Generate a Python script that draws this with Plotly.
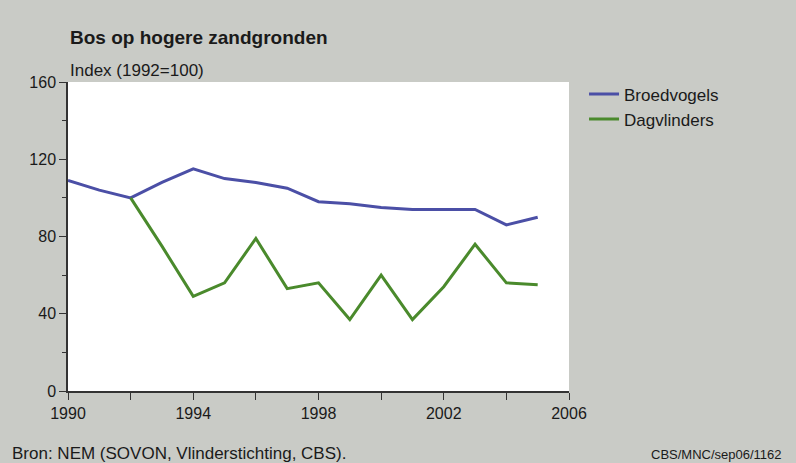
import plotly.graph_objects as go

years = list(range(1990, 2006))
broedvogels = [109, 104, 100, 108, 115, 110, 108, 105, 98, 97, 95, 94, 94, 94, 86, 90]
dag_years = list(range(1992, 2006))
dagvlinders = [100, 75, 49, 56, 79, 53, 56, 37, 60, 37, 54, 76, 56, 55]

x_ticks = [1990, 1994, 1998, 2002, 2006]
y_ticks = [0, 40, 80, 120, 160]

BG = "#c9cbc6"
FONT = "Liberation Sans, Arial, sans-serif"

fig = go.Figure()
fig.add_trace(go.Scatter(x=years, y=broedvogels, mode="lines", name="Broedvogels",
                         line=dict(color="#4b4fa6", width=3)))
fig.add_trace(go.Scatter(x=dag_years, y=dagvlinders, mode="lines", name="Dagvlinders",
                         line=dict(color="#4a8a2c", width=3)))

fig.update_layout(
    width=796, height=463,
    margin=dict(l=68, r=227, t=82, b=72),
    paper_bgcolor=BG, plot_bgcolor="white",
    font=dict(family=FONT, size=16, color="#1a1a1a"),
    showlegend=True,
    legend=dict(x=1.030, y=1.018, xanchor="left", yanchor="top",
                bgcolor="rgba(0,0,0,0)", font=dict(size=17), itemwidth=30,
                tracegroupgap=2),
    annotations=[
        dict(text="<b>Bos op hogere zandgronden</b>", xref="paper", yref="paper",
             x=0, y=1, yshift=45, xanchor="left", yanchor="middle",
             showarrow=False, font=dict(size=19)),
        dict(text="Index (1992=100)", xref="paper", yref="paper",
             x=0, y=1, yshift=12, xanchor="left", yanchor="middle",
             showarrow=False, font=dict(size=17)),
        dict(text="Bron: NEM (SOVON, Vlinderstichting, CBS).", xref="paper", yref="paper",
             x=0, y=0, xshift=-58, yshift=-62, xanchor="left", yanchor="middle",
             showarrow=False, font=dict(size=17)),
        dict(text="CBS/MNC/sep06/1162", xref="paper", yref="paper",
             x=1, y=0, xshift=215, yshift=-63, xanchor="right", yanchor="middle",
             showarrow=False, font=dict(size=13)),
    ],
)

fig.update_xaxes(range=[1990, 2006], tickvals=x_ticks, ticktext=[str(v) for v in x_ticks],
                 ticks="outside", ticklen=7, tickcolor="#333", showline=True,
                 linecolor="#333", linewidth=2, showgrid=False, zeroline=False,
                 tickfont=dict(size=16),
                 minor=dict(tickvals=[1992, 1996, 2000, 2004], ticks="outside",
                            ticklen=7, tickcolor="#333"))
fig.update_yaxes(range=[0, 160], tickvals=y_ticks, ticks="outside", ticklen=7,
                 tickcolor="#333", showline=True, linecolor="#333", linewidth=1.5,
                 showgrid=False, zeroline=False, tickfont=dict(size=16),
                 minor=dict(tickvals=[20, 60, 100, 140], ticks="outside",
                            ticklen=4, tickcolor="#333"))

fig.write_html("out.html", config={"displayModeBar": False},
               post_script="document.body.style.margin='0';")
